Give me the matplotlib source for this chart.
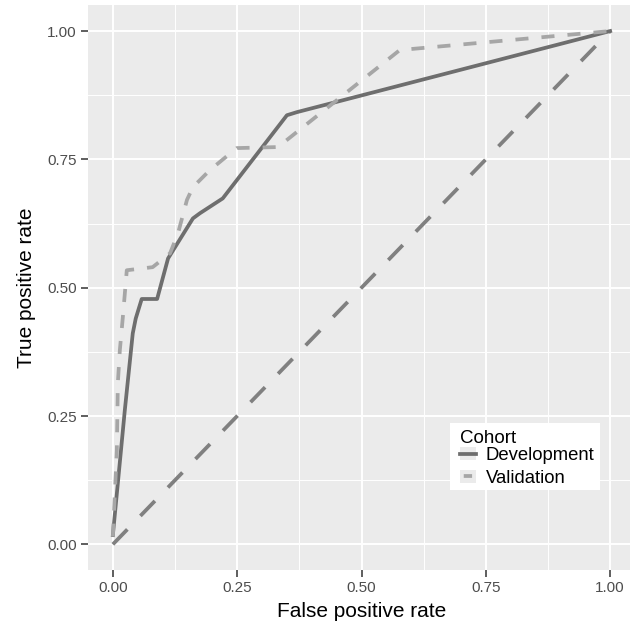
import matplotlib
matplotlib.use("Agg")
import matplotlib.pyplot as plt
from matplotlib.legend_handler import HandlerLine2D
from matplotlib.patches import Rectangle
from matplotlib.lines import Line2D

plt.rcParams['font.family'] = ['Liberation Sans', 'DejaVu Sans']
plt.rcParams['lines.scale_dashes'] = False

# Data
dev_fpr = [0.0, 0.024, 0.040, 0.046, 0.058, 0.089, 0.111, 0.161, 0.175, 0.221, 0.350, 0.370, 1.0]
dev_tpr = [0.018, 0.261, 0.411, 0.440, 0.478, 0.478, 0.557, 0.635, 0.645, 0.674, 0.836, 0.842, 1.0]

val_fpr = [0.0, 0.008, 0.010, 0.014, 0.020, 0.028, 0.080, 0.115, 0.131, 0.149, 0.161, 0.195, 0.249, 0.332, 0.577, 1.0]
val_tpr = [0.015, 0.183, 0.314, 0.378, 0.442, 0.534, 0.540, 0.567, 0.606, 0.671, 0.696, 0.729, 0.772, 0.774, 0.963, 1.0]

ref_x = [0.0, 1.0]
ref_y = [0.0, 1.0]

ticks = [0.0, 0.25, 0.5, 0.75, 1.0]
tick_labels = ["0.00", "0.25", "0.50", "0.75", "1.00"]
minor_ticks = [0.125, 0.375, 0.625, 0.875]

W, H = 630, 633
fig = plt.figure(figsize=(W / 100, H / 100), dpi=100)
ax = fig.add_axes([88 / W, (H - 570) / H, 547 / W, 564.6 / H])
ax.set_facecolor('#ebebeb')
for s in ax.spines.values():
    s.set_visible(False)

ax.set_xlim(-0.05, 1.05)
ax.set_ylim(-0.05, 1.05)
ax.set_xticks(ticks)
ax.set_xticklabels(tick_labels)
ax.set_yticks(ticks)
ax.set_yticklabels(tick_labels)
ax.set_xticks(minor_ticks, minor=True)
ax.set_yticks(minor_ticks, minor=True)
ax.tick_params(which='major', length=5, width=1.1, color='#333333', labelsize=11,
               labelcolor='#4d4d4d', pad=3)
ax.tick_params(which='minor', length=0)
ax.grid(which='major', color='white', linewidth=1.4)
ax.grid(which='minor', color='white', linewidth=0.7)
ax.set_axisbelow(True)

lw = 2.7
ax.plot(ref_x, ref_y, color='#808080', linewidth=lw, dashes=(15, 13.5),
        dash_capstyle='butt')
ax.plot(dev_fpr, dev_tpr, color='#6e6e6e', linewidth=lw, label='Development',
        solid_joinstyle='round')
ax.plot(val_fpr, val_tpr, color='#a6a6a6', linewidth=lw, dashes=(9.4, 9.4), label='Validation',
        dash_capstyle='butt')

ax.set_xlabel('False positive rate', fontsize=15, color='black', labelpad=5)
ax.set_ylabel('True positive rate', fontsize=15, color='black', labelpad=8)


class KeyHandler(HandlerLine2D):
    def create_artists(self, legend, orig_handle, xdescent, ydescent, width, height, fontsize, trans):
        bg = Rectangle((-xdescent, -ydescent), width, height, facecolor='#ebebeb',
                       edgecolor='none', transform=trans)
        arts = super().create_artists(legend, orig_handle, xdescent, ydescent, width, height,
                                      fontsize, trans)
        return [bg] + list(arts)


# legend background box
box = Rectangle((0.6618, 0.1417), 0.936 - 0.6618, 0.2604 - 0.1417, transform=ax.transAxes,
                facecolor='white', edgecolor='none', zorder=4)
ax.add_patch(box)

h_dev = Line2D([], [], color='#6e6e6e', linewidth=lw)
h_val = Line2D([], [], color='#a6a6a6', linewidth=lw, linestyle=(23.3, (6, 20)))
leg = ax.legend([h_dev, h_val], ['Development', 'Validation'], title='Cohort',
                loc='upper left', bbox_to_anchor=(0.680, 0.2474), fontsize=13.3,
                title_fontsize=13.5, frameon=False, handlelength=0.88, handletextpad=0.5,
                labelspacing=0.3, borderpad=0, borderaxespad=0,
                handler_map={Line2D: KeyHandler()})
leg._legend_box.align = 'left'
leg._legend_box.sep = 0
leg.set_zorder(5)

fig.savefig('out.png', dpi=100)
